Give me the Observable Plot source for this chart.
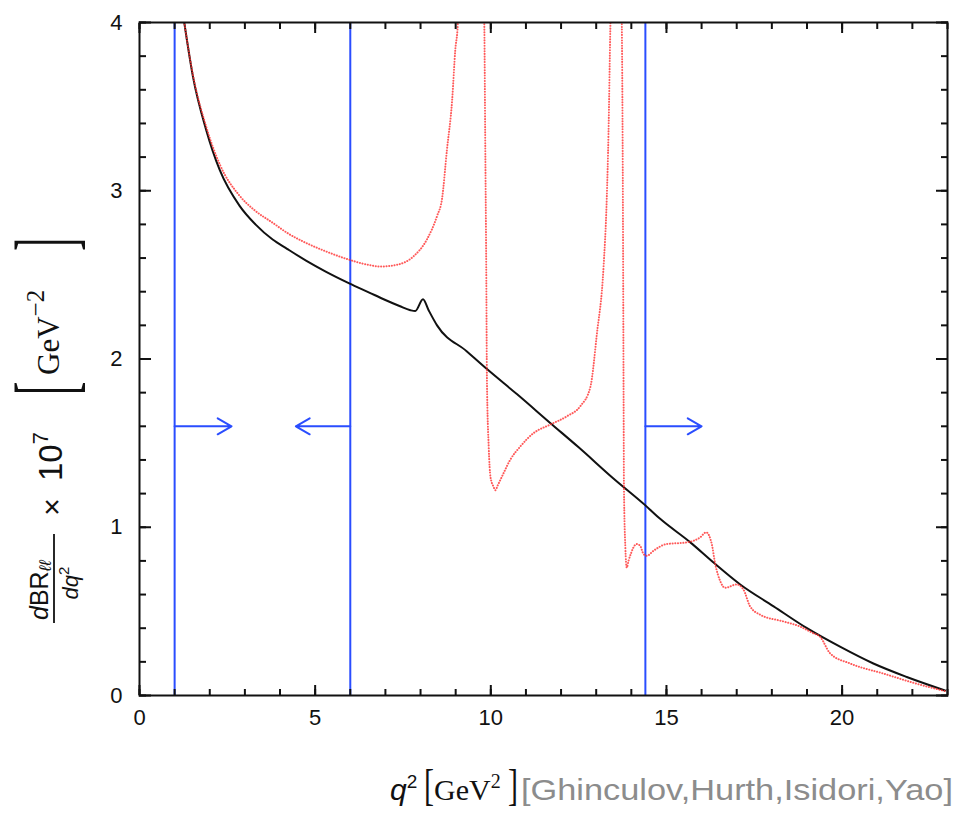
<!DOCTYPE html>
<html><head><meta charset="utf-8">
<script src="https://cdn.jsdelivr.net/npm/d3@7"></script>
<script src="https://cdn.jsdelivr.net/npm/@observablehq/plot@0.6"></script>
<style>body{margin:0;background:#fff}</style>
</head><body>
<div id="chart"></div>
<script>
// Black solid curve
const blackX = [1.26,1.52,1.9,2.28,2.85,3.3,3.79,4.2,4.74,5.3,5.97,6.54,6.95,7.4,7.71,7.85,8.07,8.23,8.47,9.32,9.89,10.75,11.69,12.5,13.49,14.4,14.82,15.68,16.34,17.1,18.05,19.0,19.94,20.89,21.84,22.93];
const blackY = [4.02,3.68,3.36,3.125,2.91,2.80,2.71,2.655,2.585,2.52,2.45,2.395,2.355,2.315,2.29,2.285,2.355,2.29,2.20,2.045,1.94,1.79,1.62,1.475,1.29,1.13,1.05,0.91,0.79,0.66,0.53,0.40,0.29,0.19,0.11,0.03];
// Red dotted curve (null = break where the resonance leaves the frame)
const redX = [1.26,1.52,1.9,2.3,2.85,3.3,3.79,4.2,4.74,5.3,5.97,6.5,6.86,7.33,7.8,8.18,8.47,8.61,8.75,8.9,8.99,9.06,9.09,9.45,9.80,9.82,9.84,9.87,9.89,9.94,9.99,10.08,10.13,10.2,10.36,10.55,10.84,11.22,11.69,12.17,12.55,12.83,13.02,13.21,13.30,13.35,13.40,13.42,13.55,13.72,13.73,13.76,13.78,13.79,13.83,13.87,13.92,14.0,14.06,14.16,14.25,14.35,14.44,14.63,15.0,15.58,15.96,16.13,16.29,16.39,16.53,16.67,17.0,17.19,17.38,17.67,18.33,18.8,19.18,19.37,19.66,20.23,21.18,22.12,22.93];
const redY = [4.02,3.69,3.38,3.15,2.97,2.88,2.81,2.75,2.69,2.64,2.59,2.56,2.55,2.56,2.61,2.71,2.85,2.95,3.24,3.54,3.84,3.99,4.15,null,4.15,3.9,3.34,2.55,1.875,1.48,1.30,1.24,1.22,1.25,1.32,1.40,1.48,1.56,1.61,1.66,1.72,1.83,2.15,2.55,2.95,3.34,3.94,4.15,null,4.15,3.98,2.95,1.76,1.24,0.88,0.76,0.80,0.85,0.88,0.90,0.89,0.84,0.83,0.86,0.90,0.91,0.94,0.97,0.90,0.78,0.68,0.64,0.66,0.63,0.53,0.48,0.44,0.41,0.37,0.35,0.25,0.19,0.13,0.07,0.026];
// Blue cuts and arrows
const cutX = [1, 6, 14.4];
const arrowFrom = [1, 6, 14.4];
const arrowTo = [2.62, 4.45, 16.0];
const arrowLevel = [1.6, 1.6, 1.6];
// Ticks
const xMajor = [0,5,10,15,20];
const xMinor = [0,1,2,3,4,5,6,7,8,9,10,11,12,13,14,15,16,17,18,19,20,21,22,23];
const yMajor = [0,1,2,3,4];
const yMinor = [0,0.2,0.4,0.6,0.8,1,1.2,1.4,1.6,1.8,2,2.2,2.4,2.6,2.8,3,3.2,3.4,3.6,3.8,4];

const BLUE = "#2a4dff", RED = "#ff3030", INK = "#111";
const tk = {stroke: INK, strokeWidth: 2, fill: "none", label: null};
const fmt = d => String(d);

const chart = Plot.plot({
  width: 957, height: 821,
  marginLeft: 139, marginRight: 10, marginTop: 22, marginBottom: 126,
  x: {domain: [0, 23]},
  y: {domain: [0, 4]},
  style: {fontFamily: "'Liberation Sans', Arial, sans-serif", fontSize: "22px", background: "white", color: INK},
  marks: [
    Plot.ruleX(cutX, {stroke: BLUE, strokeWidth: 2}),
    Plot.arrow(arrowFrom, {x1: arrowFrom, x2: arrowTo, y1: arrowLevel, y2: arrowLevel, stroke: BLUE, strokeWidth: 2, headLength: 12, headAngle: 60}),
    Plot.line(blackX, {x: blackX, y: blackY, stroke: INK, strokeWidth: 2, curve: "monotone-x", clip: true}),
    Plot.line(redX, {x: redX, y: redY, stroke: RED, strokeWidth: 2, strokeDasharray: "0.1 2.6", strokeLinecap: "round", strokeOpacity: 0.8, curve: "monotone-x", clip: true}),
    Plot.axisX(xMinor, {anchor: "bottom", tickSize: -6, ...tk}),
    Plot.axisX(xMajor, {anchor: "bottom", tickSize: -10, ...tk}),
    Plot.axisX(xMinor, {anchor: "top", tickSize: -6, ...tk}),
    Plot.axisX(xMajor, {anchor: "top", tickSize: -10, ...tk}),
    Plot.axisY(yMinor, {anchor: "left", tickSize: -7, ...tk}),
    Plot.axisY(yMajor, {anchor: "left", tickSize: -12, ...tk}),
    Plot.axisY(yMinor, {anchor: "right", tickSize: -7, ...tk}),
    Plot.axisY(yMajor, {anchor: "right", tickSize: -12, ...tk}),
    Plot.axisX(xMajor, {anchor: "bottom", tickSize: 0, tickPadding: 14, label: null, fontSize: 22, tickFormat: fmt}),
    Plot.axisY(yMajor, {anchor: "left", tickSize: 0, tickPadding: 17, label: null, fontSize: 22, tickFormat: fmt}),
    Plot.frame({stroke: INK, strokeWidth: 2})
  ]
});
document.getElementById("chart").appendChild(chart);

const svg = d3.select(chart);
const SANS = "'Liberation Sans', Arial, sans-serif";
const SERIF = "'Liberation Serif', 'Times New Roman', serif";

// ---- x-axis label ----
const xl = svg.append("g").attr("fill", INK).attr("text-anchor", "start");
const q = xl.append("text").attr("x", 390).attr("y", 800).attr("font-family", SANS).attr("font-size", 30);
q.append("tspan").attr("font-style", "italic").text("q");
q.append("tspan").attr("font-size", 19).attr("dy", -12).text("2");
xl.append("text").attr("transform", "translate(424,800) scale(1,1.5)").attr("font-family", SERIF).attr("font-size", 30).text("[");
const gx = xl.append("text").attr("x", 434).attr("y", 800).attr("font-family", SERIF).attr("font-size", 30);
gx.append("tspan").text("GeV");
gx.append("tspan").attr("font-size", 20).attr("dy", -12).text("2");
xl.append("text").attr("transform", "translate(508,800) scale(1,1.5)").attr("font-family", SERIF).attr("font-size", 30).text("]");
xl.append("text").attr("x", 521).attr("y", 800).attr("font-family", SANS).attr("font-size", 30)
  .attr("fill", "#8c8c8c").attr("textLength", 432).attr("lengthAdjust", "spacingAndGlyphs")
  .text("[Ghinculov,Hurth,Isidori,Yao]");

// ---- y-axis label (rotated) ----
const yl = svg.append("g").attr("transform", "translate(60,445) rotate(-90)").attr("fill", INK).attr("text-anchor", "start");
const num = yl.append("text").attr("x", -175).attr("y", -12).attr("font-family", SANS).attr("font-size", 25);
num.append("tspan").attr("font-style", "italic").text("d");
num.append("tspan").text("BR");
num.append("tspan").attr("font-style", "italic").attr("font-size", 17).attr("dy", 3).text("ℓℓ");
yl.append("line").attr("x1", -178).attr("x2", -89).attr("y1", -6).attr("y2", -6).attr("stroke", INK).attr("stroke-width", 1.8);
const den = yl.append("text").attr("x", -138).attr("y", 18).attr("text-anchor", "middle").attr("font-family", SANS).attr("font-size", 22);
den.append("tspan").attr("font-style", "italic").text("dq");
den.append("tspan").attr("font-size", 15).attr("dy", -9).text("2");
yl.append("text").attr("x", -62).attr("y", 2).attr("text-anchor", "middle").attr("font-family", SANS).attr("font-size", 30).text("×");
const ten = yl.append("text").attr("x", -36).attr("y", 2).attr("font-family", SANS).attr("font-size", 33);
ten.append("tspan").text("10");
ten.append("tspan").attr("font-size", 22).attr("dy", -14).text("7");
yl.append("text").attr("transform", "translate(50,14) scale(1,2.1)").attr("font-family", SERIF).attr("font-size", 40).text("[");
const gy = yl.append("text").attr("x", 70).attr("y", -1).attr("font-family", SERIF).attr("font-size", 31);
gy.append("tspan").text("GeV");
gy.append("tspan").attr("font-size", 25).attr("dy", -15).text("−2");
yl.append("text").attr("transform", "translate(194,14) scale(1,2.1)").attr("font-family", SERIF).attr("font-size", 40).text("]");
</script>
</body></html>
